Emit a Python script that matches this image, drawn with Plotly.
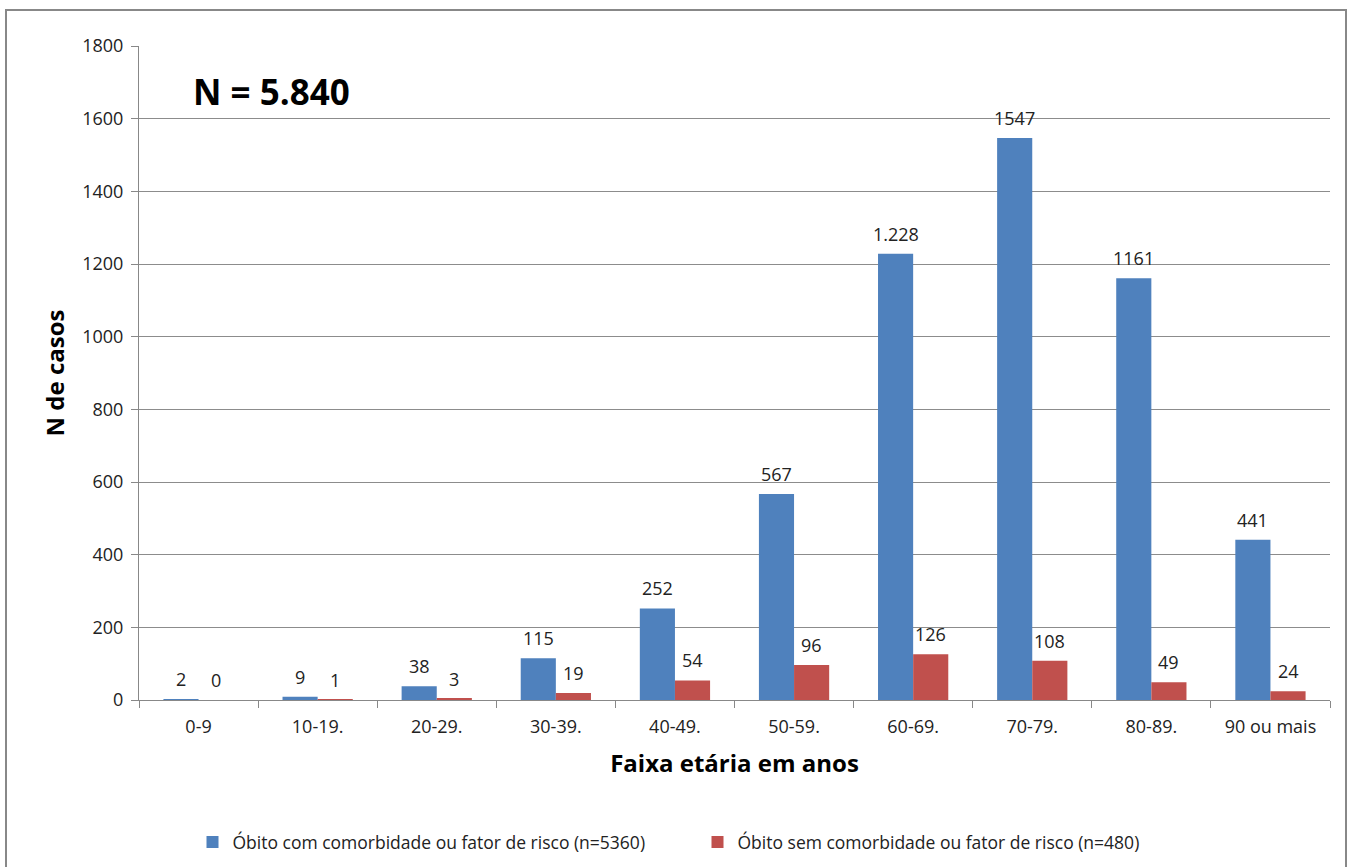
import plotly.graph_objects as go

# Age groups and deaths per group
faixas = ["0-9", "10-19.", "20-29.", "30-39.", "40-49.", "50-59.",
          "60-69.", "70-79.", "80-89.", "90 ou mais"]
com_comorbidade = [2, 9, 38, 115, 252, 567, 1228, 1547, 1161, 441]
sem_comorbidade = [0, 1, 3, 19, 54, 96, 126, 108, 49, 24]


def rotulo(v):
    # thousands separator only as printed on the 60-69 bar
    return f"{v:,}".replace(",", ".") if v == 1228 else str(v)


rotulos_com = [rotulo(v) for v in com_comorbidade]
rotulos_sem = [str(v) for v in sem_comorbidade]

FONT = "Open Sans, Noto Sans, sans-serif"
W, H = 1349, 867
L, R, T, B = 139, 19, 46, 167
pw, ph = W - L - R, H - T - B
BARGAP = 0.41
half_bar = pw / len(faixas) * (1 - BARGAP) / 4  # half of one bar, px


def px_x(x):
    return (x - L) / pw


def px_y(y):
    return (H - B - y) / ph


fig = go.Figure()
fig.add_trace(go.Bar(
    x=faixas, y=com_comorbidade, name="Óbito com comorbidade ou fator de risco (n=5360)",
    marker=dict(color="#4F81BD", line=dict(width=0)),
))
fig.add_trace(go.Bar(
    x=faixas, y=sem_comorbidade, name="Óbito sem comorbidade ou fator de risco (n=480)",
    marker=dict(color="#C0504D", line=dict(width=0)),
))

# value labels above each bar
annotations = []
for serie, rotulos, shift in ((com_comorbidade, rotulos_com, -half_bar),
                              (sem_comorbidade, rotulos_sem, half_bar)):
    for cat, v, txt in zip(faixas, serie, rotulos):
        annotations.append(dict(
            x=cat, y=v, xref="x", yref="y", text=txt, showarrow=False,
            xanchor="center", yanchor="bottom", xshift=shift, yshift=6,
            font=dict(size=18, family=FONT, color="#222222"),
        ))

annotations.append(dict(
    text="<b>N = 5.840</b>", xref="paper", yref="paper",
    x=px_x(191), y=px_y(91), xanchor="left", yanchor="middle", showarrow=False,
    font=dict(size=35, family=FONT, color="#000"),
))

fig.update_layout(
    width=W, height=H,
    margin=dict(l=L, r=R, t=T, b=B, autoexpand=False),
    paper_bgcolor="white", plot_bgcolor="white",
    barmode="group", bargap=BARGAP, bargroupgap=0,
    font=dict(family=FONT, color="#222222", size=18),
    showlegend=True,
    legend=dict(orientation="h", x=0.5 - 37 / pw, xanchor="center",
                yref="container", y=1 - 842 / H, yanchor="middle",
                font=dict(size=17.5, family=FONT, color="#222222"),
                itemwidth=30, traceorder="normal", entrywidthmode="pixels", entrywidth=460),
    xaxis=dict(
        showline=True, linecolor="#888888", linewidth=1,
        ticks="outside", ticklen=7, tickcolor="#888888", tickson="boundaries",
        ticklabelstandoff=10,
        tickfont=dict(size=18, family=FONT, color="#222222"),
        title=dict(text="<b>Faixa etária em anos</b>", font=dict(size=24, family=FONT, color="#000"),
                   standoff=18),
    ),
    yaxis=dict(
        range=[0, 1800], dtick=200, showgrid=True, gridcolor="#8c8c8c", gridwidth=1,
        showline=True, linecolor="#888888", linewidth=1, zeroline=False,
        ticks="outside", ticklen=7, tickcolor="#888888", ticklabelstandoff=4,
        tickfont=dict(size=18, family=FONT, color="#222222"),
        title=dict(text="<b>N de casos</b>", font=dict(size=24, family=FONT, color="#000"),
                   standoff=10),
    ),
    annotations=annotations,
    shapes=[dict(
        type="rect", xref="paper", yref="paper",
        x0=px_x(6), x1=px_x(1346), y0=px_y(900), y1=px_y(10),
        line=dict(color="#888888", width=2), layer="below",
    )],
)

fig.write_html("out.html")
